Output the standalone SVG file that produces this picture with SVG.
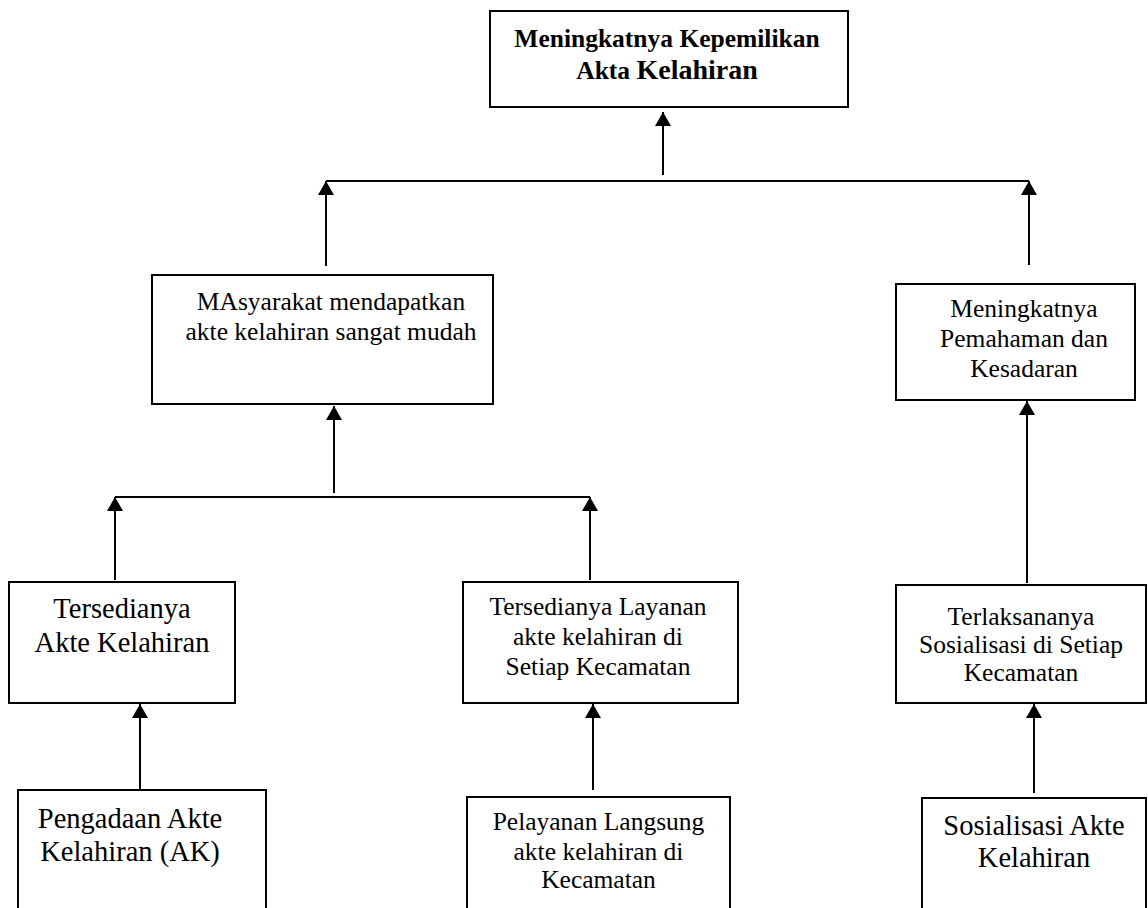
<svg xmlns="http://www.w3.org/2000/svg" width="1148" height="908" viewBox="0 0 1148 908">
  <style>
    .box { fill: #ffffff; stroke: #000000; stroke-width: 2; }
    .t { font-family: "Liberation Serif", "Times New Roman", serif; fill: #000000; text-anchor: middle; font-size: 25.5px; }
    .big { font-size: 28.5px; }
    .bold { font-weight: bold; }
    .ln { stroke: #000000; stroke-width: 2; fill: none; }
    .ar { stroke: #000000; stroke-width: 2; fill: none; marker-end: url(#arrow); }
  </style>
  <defs>
    <marker id="arrow" markerUnits="userSpaceOnUse" markerWidth="14" markerHeight="16" refX="14" refY="8" orient="auto" viewBox="0 0 14 16">
      <path d="M0,0 L14,8 L0,16 Z" fill="#000000"/>
    </marker>
  </defs>
  <rect x="0" y="0" width="1148" height="908" fill="#ffffff"/>

  <g id="connectors">
    <line class="ar" x1="663" y1="175" x2="663" y2="112"/>
    <line class="ln" x1="326" y1="181" x2="1029" y2="181"/>
    <line class="ar" x1="326" y1="266" x2="326" y2="181"/>
    <line class="ar" x1="1029" y1="265" x2="1029" y2="181"/>
    <line class="ar" x1="334" y1="493" x2="334" y2="406"/>
    <line class="ln" x1="115" y1="497" x2="590" y2="497"/>
    <line class="ar" x1="115" y1="580" x2="115" y2="497"/>
    <line class="ar" x1="590" y1="580" x2="590" y2="497"/>
    <line class="ar" x1="140" y1="789" x2="140" y2="704"/>
    <line class="ar" x1="593" y1="790" x2="593" y2="704"/>
    <line class="ar" x1="1027" y1="583" x2="1027" y2="401"/>
    <line class="ar" x1="1034" y1="793" x2="1034" y2="704"/>
  </g>

  <g id="n-goal">
    <rect class="box" x="490" y="11" width="358" height="96"/>
    <text class="t bold" x="667" y="47">Meningkatnya Kepemilikan</text>
    <text class="t bold" x="667" y="79">Akta <tspan font-size="28px">Kelahiran</tspan></text>
  </g>

  <g id="n-masyarakat">
    <rect class="box" x="152" y="275" width="341" height="129"/>
    <text class="t" x="331" y="310">MAsyarakat mendapatkan</text>
    <text class="t" x="331" y="340">akte kelahiran sangat mudah</text>
  </g>

  <g id="n-pemahaman">
    <rect class="box" x="896" y="284" width="239" height="116"/>
    <text class="t" x="1024" y="317">Meningkatnya</text>
    <text class="t" x="1024" y="347">Pemahaman dan</text>
    <text class="t" x="1024" y="377">Kesadaran</text>
  </g>

  <g id="n-tersedianya-akte">
    <rect class="box" x="9" y="582" width="226" height="121"/>
    <text class="t big" x="122" y="618">Tersedianya</text>
    <text class="t big" x="122" y="652">Akte Kelahiran</text>
  </g>

  <g id="n-tersedianya-layanan">
    <rect class="box" x="463" y="582" width="275" height="121"/>
    <text class="t" x="598" y="615">Tersedianya Layanan</text>
    <text class="t" x="598" y="645">akte kelahiran di</text>
    <text class="t" x="598" y="675">Setiap Kecamatan</text>
  </g>

  <g id="n-terlaksananya">
    <rect class="box" x="896" y="585" width="250" height="118"/>
    <text class="t" x="1021" y="625">Terlaksananya</text>
    <text class="t" x="1021" y="653">Sosialisasi di Setiap</text>
    <text class="t" x="1021" y="681">Kecamatan</text>
  </g>

  <g id="n-pengadaan">
    <rect class="box" x="18" y="790" width="248" height="130"/>
    <text class="t big" x="130" y="828">Pengadaan Akte</text>
    <text class="t big" x="130" y="861">Kelahiran (AK)</text>
  </g>

  <g id="n-pelayanan">
    <rect class="box" x="467" y="797" width="263" height="123"/>
    <text class="t" x="598.5" y="830">Pelayanan Langsung</text>
    <text class="t" x="598.5" y="860">akte kelahiran di</text>
    <text class="t" x="598.5" y="888">Kecamatan</text>
  </g>

  <g id="n-sosialisasi">
    <rect class="box" x="922" y="798" width="224" height="122"/>
    <text class="t big" x="1034" y="835">Sosialisasi Akte</text>
    <text class="t big" x="1034" y="867">Kelahiran</text>
  </g>
</svg>
